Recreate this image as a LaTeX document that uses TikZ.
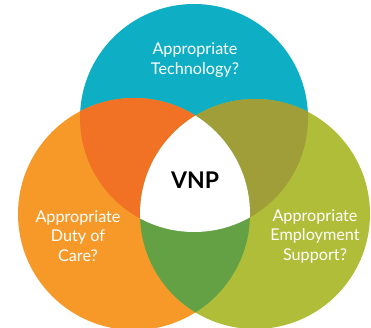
\documentclass[tikz,border=0pt]{standalone}
\usepackage{fontspec}
\setmainfont{Lato}
\definecolor{cteal}{RGB}{14,174,196}
\definecolor{corange}{RGB}{247,153,41}
\definecolor{cgreen}{RGB}{176,189,56}
\definecolor{ctl}{RGB}{241,114,36}
\definecolor{ctr}{RGB}{160,158,56}
\definecolor{cbot}{RGB}{99,161,68}
\begin{document}
\begin{tikzpicture}[x=1pt,y=-1pt,
  lbl/.style={text=white,font=\fontsize{16.2}{19.5}\selectfont,align=center,inner sep=0pt}]
\useasboundingbox (0,0) rectangle (371,328);
\def\circTop{(194,118) circle (114)}
\def\circLeft{(134,214) circle (116)}
\def\circRight{(255,214) circle (115)}
\fill[cteal] \circTop;
\fill[corange] \circLeft;
\fill[cgreen] \circRight;
\begin{scope}\clip \circTop; \fill[ctl] \circLeft; \end{scope}
\begin{scope}\clip \circTop; \fill[ctr] \circRight; \end{scope}
\begin{scope}\clip \circLeft; \fill[cbot] \circRight; \end{scope}
\begin{scope}\clip \circTop; \clip \circLeft; \fill[white] \circRight; \end{scope}
\node[lbl] (tech) at (195,60) {Appropriate\\Technology?};
\node[lbl] (duty) at (78,236) {Appropriate\\Duty of\\Care?};
\node[lbl] (emp) at (315,236) {Appropriate\\Employment\\Support?};
\node[inner sep=0pt,font=\fontsize{23}{23}\bfseries\selectfont] (vnp) at (195,180) {VNP};
\end{tikzpicture}
\end{document}
